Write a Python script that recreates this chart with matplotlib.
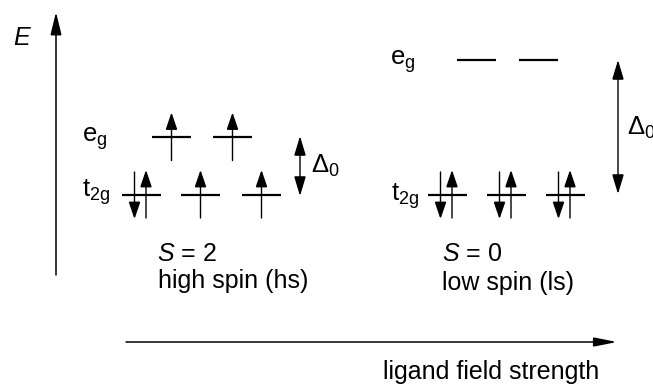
import matplotlib
matplotlib.use("Agg")
import matplotlib.pyplot as plt
from matplotlib.patches import FancyArrowPatch

plt.rcParams['font.family'] = ['Liberation Sans', 'DejaVu Sans']
plt.rcParams['mathtext.fontset'] = 'custom'
plt.rcParams['mathtext.rm'] = 'Liberation Sans'
plt.rcParams['mathtext.it'] = 'Liberation Sans:italic'
plt.rcParams['mathtext.bf'] = 'Liberation Sans:bold'

# ---- data ----
# electron occupancy per orbital (0 = empty, 1 = up, 2 = paired)
hs_t2g_occ = [2, 1, 1]
hs_eg_occ = [1, 1]
ls_t2g_occ = [2, 2, 2]
ls_eg_occ = [0, 0]
spin_labels = ["$S$ = 2", "$S$ = 0"]
state_labels = ["high spin (hs)", "low spin (ls)"]
level_labels = [r"$\mathrm{e_g}$", r"$\mathrm{t_{2g}}$"]
delta_label = r"$\Delta_0$"
x_axis_label = "ligand field strength"
y_axis_label = "$E$"

# ---- layout (pixel coordinates) ----
W, H = 653, 392
fig = plt.figure(figsize=(W / 100, H / 100), dpi=100)
ax = fig.add_axes([0, 0, 1, 1])
ax.set_xlim(0, W)
ax.set_ylim(H, 0)
ax.axis('off')

FS = 18
LFS = 18.5
LEVEL_HALF = 19.5
LEVEL_LW = 1.6
E_LW = 1.0


def arrow(x0, y0, x1, y1, style, hl, hw, lw=E_LW):
    p = FancyArrowPatch((x0, y0), (x1, y1),
                        arrowstyle=f"{style},head_length={hl},head_width={hw}",
                        mutation_scale=1, shrinkA=0, shrinkB=0,
                        lw=lw, color='black', joinstyle='miter')
    ax.add_patch(p)


def draw_levels(centers, y, occ):
    for cx, n in zip(centers, occ):
        ax.plot([cx - LEVEL_HALF, cx + LEVEL_HALF], [y, y], color='black',
                lw=LEVEL_LW, solid_capstyle='butt')
        if n == 1:
            arrow(cx, y + 23.5, cx, y - 24.5, '-|>', 10.5, 3.6)
        elif n == 2:
            arrow(cx - 7, y - 22.5, cx - 7, y + 24.5, '-|>', 10.5, 3.6)
            arrow(cx + 4.5, y + 23.5, cx + 4.5, y - 24.5, '-|>', 10.5, 3.6)


# high spin
draw_levels([171.5, 232.5], 137, hs_eg_occ)
draw_levels([141.5, 200.5, 261.5], 194.5, hs_t2g_occ)
# low spin
draw_levels([476.5, 538.5], 60, ls_eg_occ)
draw_levels([447.5, 506.5, 565.5], 194.5, ls_t2g_occ)

# level labels
ax.text(82, 142, level_labels[0], fontsize=LFS, ha='left', va='baseline')
ax.text(82, 197, level_labels[1], fontsize=LFS, ha='left', va='baseline')
ax.text(390, 65, level_labels[0], fontsize=LFS, ha='left', va='baseline')
ax.text(391, 201, level_labels[1], fontsize=LFS, ha='left', va='baseline')

# Delta arrows
arrow(300, 136, 300, 196, '<|-|>', 12, 3.6)
ax.text(311, 173, delta_label, fontsize=LFS, ha='left', va='baseline')
arrow(618, 60, 618, 194, '<|-|>', 12, 3.6)
ax.text(627, 135, delta_label, fontsize=LFS, ha='left', va='baseline')

# spin state labels
ax.text(157, 261, spin_labels[0], fontsize=FS, ha='left', va='baseline')
ax.text(158, 288, state_labels[0], fontsize=FS, ha='left', va='baseline')
ax.text(442, 261, spin_labels[1], fontsize=FS, ha='left', va='baseline')
ax.text(442, 290, state_labels[1], fontsize=FS, ha='left', va='baseline')

# energy axis
arrow(56, 275, 56, 12, '-|>', 14, 3.4, lw=1.1)
ax.text(13, 45, y_axis_label, fontsize=FS, ha='left', va='baseline')

# ligand field axis
arrow(126, 342, 617, 342, '-|>', 14, 2.8, lw=1.1)
ax.text(383, 379, x_axis_label, fontsize=FS, ha='left', va='baseline')

fig.savefig("out.png", dpi=100)
